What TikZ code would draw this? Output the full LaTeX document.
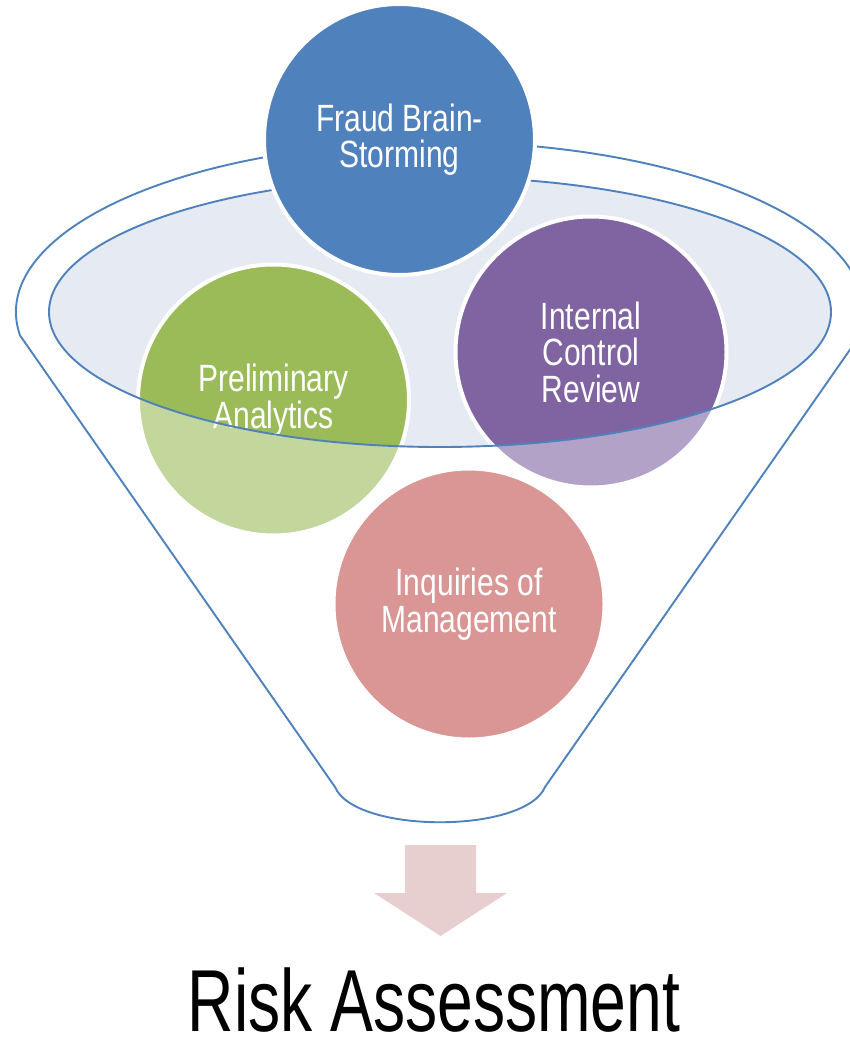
\documentclass[tikz,border=0pt]{standalone}
\usepackage{fontspec}
\newfontfamily\bubblefont[FakeStretch=0.79]{Liberation Sans}
\newfontfamily\titlefont[FakeStretch=0.73]{Liberation Sans}
\definecolor{rimblue}{HTML}{4F81BD}
\definecolor{openfill}{RGB}{229,234,243}
\definecolor{fraudblue}{HTML}{4F81BD}
\definecolor{prelimgreen}{HTML}{9BBB59}
\definecolor{controlpurple}{HTML}{8064A2}
\definecolor{inquiryred}{HTML}{C0504D}
\definecolor{arrowpink}{RGB}{231,207,208}
\begin{document}
\begin{tikzpicture}[x=1pt,y=-1pt,
  bubble/.style={circle, minimum size=271pt, inner sep=0pt, draw=white,
    line width=4pt, text=white, align=center,
    font=\bubblefont\fontsize{38}{36.5}\selectfont},
  rim/.style={draw=rimblue, line width=1.9pt}]
\useasboundingbox (0,0) rectangle (850,1041);
\clip (0,0) rectangle (850,1041);

% mouth of the funnel
\fill[openfill] (440,312) ellipse [x radius=391, y radius=135];

% items falling into the funnel
\node[bubble, fill=prelimgreen] (prelim) at (273.5,400) {Preliminary\\Analytics};
\node[bubble, fill=controlpurple] (control) at (591,352) {Internal\\Control\\Review};
\node[bubble, fill=inquiryred] (inquiry) at (469,604) {Inquiries of\\Management};

% translucent front of the funnel body, with the mouth left open
\path[fill=white, fill opacity=0.4, even odd rule]
  (20,335.4) arc[start angle=172.1, end angle=367.9, x radius=424, y radius=170]
  -- (545,787) .. controls (525,834) and (355,834) .. (335,787) -- cycle
  (440,312) ellipse [x radius=391, y radius=135];

% funnel outlines
\draw[rim, line join=round]
  (20,335.4) arc[start angle=172.1, end angle=367.9, x radius=424, y radius=170]
  -- (545,787) .. controls (525,834) and (355,834) .. (335,787) -- cycle;
\draw[rim] (440,312) ellipse [x radius=391, y radius=135];

% top item resting above the rim
\node[bubble, fill=fraudblue] (fraud) at (399.5,139.5) {Fraud Brain-\\Storming};

% outcome arrow
\fill[arrowpink] (405,845) -- (476,845) -- (476,893) -- (507,893) -- (440.5,936)
  -- (374,893) -- (405,893) -- cycle;

\node[font=\titlefont\fontsize{88}{88}\selectfont, anchor=base, inner sep=0pt]
  (title) at (434,1031) {Risk Assessment};
\end{tikzpicture}
\end{document}
